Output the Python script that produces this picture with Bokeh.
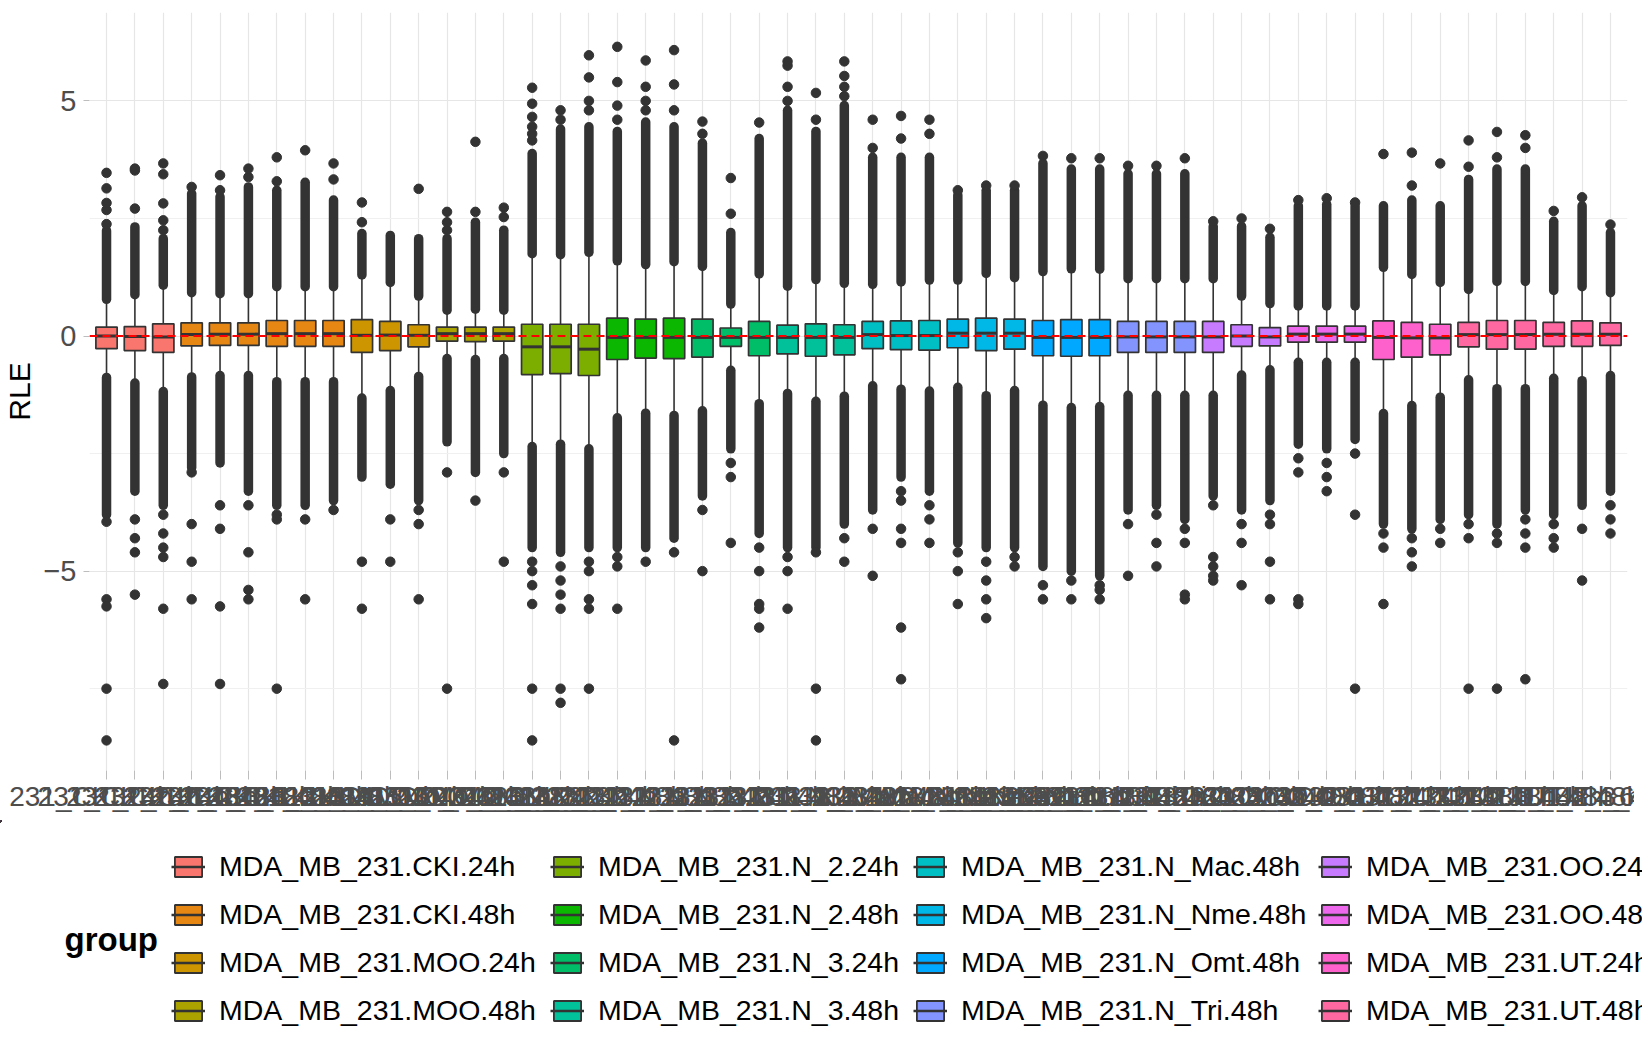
"""
RLE boxplots per sample, coloured by group (ggplot-like look rebuilt in bokeh)
"""
import math
from bokeh.plotting import figure
from bokeh.models import ColumnDataSource, Range1d, FixedTicker, Span, Legend, LegendItem, Label
from bokeh.embed import file_html
from bokeh.resources import INLINE

# groups and replicate counts
groups = ["MDA_MB_231.CKI.24h", "MDA_MB_231.CKI.48h", "MDA_MB_231.MOO.24h", "MDA_MB_231.MOO.48h",
          "MDA_MB_231.N_2.24h", "MDA_MB_231.N_2.48h", "MDA_MB_231.N_3.24h", "MDA_MB_231.N_3.48h",
          "MDA_MB_231.N_Mac.48h", "MDA_MB_231.N_Nme.48h", "MDA_MB_231.N_Omt.48h", "MDA_MB_231.N_Tri.48h",
          "MDA_MB_231.OO.24h", "MDA_MB_231.OO.48h", "MDA_MB_231.UT.24h", "MDA_MB_231.UT.48h"]
reps = [3, 6, 3, 3, 3, 3, 3, 3, 3, 3, 3, 3, 3, 3, 3, 6]

# box statistics, one value per sample (54 samples)
q1 = [-0.27, -0.31, -0.35, -0.21, -0.20, -0.20, -0.22, -0.22, -0.22, -0.35, -0.31, -0.23,
      -0.11, -0.12, -0.11, -0.82, -0.80, -0.84, -0.50, -0.47, -0.48, -0.45, -0.22, -0.42,
      -0.38, -0.43, -0.40, -0.27, -0.29, -0.30, -0.25, -0.31, -0.28, -0.42, -0.43, -0.42,
      -0.35, -0.35, -0.35, -0.35, -0.22, -0.21, -0.13, -0.13, -0.13, -0.50, -0.45, -0.40,
      -0.23, -0.28, -0.28, -0.22, -0.22, -0.20]
med = [0.00, -0.01, -0.02, 0.03, 0.04, 0.04, 0.05, 0.05, 0.05, 0.015, 0.02, 0.015,
       0.05, 0.05, 0.05, -0.23, -0.23, -0.28, -0.03, -0.03, -0.03, -0.03, -0.03, -0.03,
       -0.03, -0.03, -0.03, 0.03, 0.01, 0.01, 0.06, 0.06, 0.06, -0.03, -0.03, -0.03,
       -0.02, -0.02, -0.02, -0.02, 0.00, -0.02, 0.04, 0.04, 0.04, -0.03, -0.04, -0.04,
       0.03, 0.03, 0.03, 0.04, 0.04, 0.04]
q3 = [0.19, 0.20, 0.26, 0.28, 0.28, 0.28, 0.33, 0.33, 0.33, 0.35, 0.31, 0.24,
      0.19, 0.19, 0.19, 0.25, 0.25, 0.25, 0.38, 0.36, 0.38, 0.36, 0.17, 0.31,
      0.23, 0.26, 0.24, 0.31, 0.32, 0.33, 0.36, 0.38, 0.36, 0.33, 0.35, 0.35,
      0.31, 0.31, 0.31, 0.31, 0.24, 0.18, 0.21, 0.21, 0.21, 0.32, 0.29, 0.25,
      0.29, 0.33, 0.33, 0.29, 0.32, 0.28]
whisk_lo = [-0.88, -1.00, -1.18, -0.87, -0.84, -0.84, -0.97, -0.97, -0.97, -1.32, -1.16, -0.86,
            -0.48, -0.50, -0.48, -2.35, -2.30, -2.40, -1.74, -1.64, -1.69, -1.59, -0.73, -1.44,
            -1.22, -1.39, -1.28, -1.06, -1.13, -1.17, -1.09, -1.27, -1.16, -1.47, -1.52, -1.50,
            -1.26, -1.26, -1.26, -1.26, -0.83, -0.72, -0.56, -0.56, -0.56, -1.65, -1.48, -1.30,
            -0.93, -1.12, -1.12, -0.90, -0.95, -0.84]
whisk_hi = [0.78, 0.88, 1.08, 0.92, 0.90, 0.90, 1.05, 1.05, 1.05, 1.30, 1.14, 0.85,
            0.55, 0.57, 0.55, 1.75, 1.73, 1.78, 1.60, 1.52, 1.58, 1.48, 0.68, 1.32,
            1.06, 1.20, 1.12, 1.10, 1.15, 1.19, 1.19, 1.33, 1.24, 1.37, 1.43, 1.42,
            1.22, 1.22, 1.22, 1.22, 0.85, 0.69, 0.64, 0.64, 0.64, 1.46, 1.31, 1.14,
            0.99, 1.16, 1.16, 0.97, 1.05, 0.92]

# outliers: the packed run of points beyond each whisker, then the scattered ones
dense_lo = [-3.8, -3.3, -3.6, -2.8, -2.7, -3.3, -3.6, -3.6, -3.5, -3.0, -3.15, -3.5,
            -2.25, -2.9, -2.5, -4.5, -4.6, -4.5, -4.5, -4.5, -4.3, -3.4, -2.4, -4.2,
            -4.5, -4.5, -4.0, -3.7, -3.0, -3.3, -4.4, -4.5, -4.5, -4.9, -5.0, -5.1,
            -3.7, -3.6, -3.9, -3.4, -3.7, -3.5, -2.3, -2.4, -2.2, -4.0, -4.1, -3.9,
            -3.8, -4.0, -3.7, -3.8, -3.6, -3.3]
dense_hi = [2.24, 2.32, 2.07, 3.03, 2.96, 3.17, 3.10, 3.27, 2.89, 2.18, 2.14, 2.07,
            2.07, 2.42, 2.25, 3.88, 4.40, 4.45, 4.35, 4.55, 4.45, 4.10, 2.20, 4.20,
            4.80, 4.35, 4.90, 3.80, 3.80, 3.80, 3.00, 3.10, 3.10, 3.67, 3.55, 3.55,
            3.45, 3.45, 3.45, 2.33, 2.33, 2.10, 2.77, 2.80, 2.77, 2.77, 2.89, 2.77,
            3.33, 3.55, 3.55, 2.44, 2.77, 2.20]
out_lo = [[-3.95, -5.6, -5.75, -7.5, -8.6], [-3.9, -4.3, -4.6, -5.5], [-3.8, -4.2, -4.5, -4.7, -5.8, -7.4],
          [-2.9, -4.0, -4.8, -5.6], [-3.6, -4.1, -5.75, -7.4], [-3.6, -4.6, -5.4, -5.6],
          [-3.8, -3.9, -7.5], [-3.9, -5.6], [-3.7], [-4.8, -5.8], [-3.9, -4.8], [-3.7, -4.0, -5.6],
          [-2.9, -7.5], [-3.5], [-2.9, -4.8],
          [-4.8, -5.0, -5.3, -5.7, -7.5, -8.6], [-4.9, -5.2, -5.5, -5.8, -7.5, -7.8], [-4.8, -5.0, -5.6, -5.8, -7.5],
          [-4.7, -4.9, -5.8], [-4.8], [-4.6, -8.6],
          [-3.7, -5.0], [-2.7, -3.0, -4.4], [-4.5, -5.0, -5.7, -5.8, -6.2],
          [-4.7, -5.0, -5.8], [-4.6, -7.5, -8.6], [-4.3, -4.8],
          [-4.1, -5.1], [-3.3, -3.5, -4.1, -4.4, -6.2, -7.3], [-3.6, -3.9, -4.4],
          [-4.6, -5.0, -5.7], [-4.8, -5.2, -5.6, -6.0], [-4.7, -4.9],
          [-5.3, -5.6], [-5.2, -5.6], [-5.3, -5.4, -5.6],
          [-4.0, -5.1], [-3.8, -4.4, -4.9], [-4.1, -4.4, -5.5, -5.6],
          [-3.6, -4.7, -4.9, -5.1, -5.2], [-4.0, -4.4, -5.3], [-3.8, -4.0, -4.8, -5.6],
          [-2.6, -2.9, -5.6, -5.7], [-2.7, -3.0, -3.3], [-2.5, -3.8, -7.5],
          [-4.2, -4.5, -5.7], [-4.3, -4.6, -4.9], [-4.1, -4.4],
          [-4.0, -4.3, -7.5], [-4.2, -4.4, -7.5], [-3.9, -4.2, -4.5, -7.3],
          [-4.0, -4.3, -4.5], [-4.1, -5.2], [-3.6, -3.9, -4.2]]
out_hi = [[2.38, 2.68, 2.83, 3.14, 3.47], [2.71, 3.52, 3.56], [2.25, 2.46, 2.82, 3.44, 3.67],
          [3.17], [3.10, 3.42], [3.38, 3.56], [3.29, 3.80], [3.95], [3.33, 3.67],
          [2.42, 2.84], [], [3.13], [2.25, 2.42, 2.64], [2.64, 4.13], [2.53, 2.73],
          [4.16, 4.30, 4.45, 4.66, 4.94, 5.28], [4.60, 4.80], [4.80, 5.00, 5.50, 5.97],
          [4.60, 4.90, 5.40, 6.15], [4.80, 5.00, 5.30, 5.86], [4.80, 5.35, 6.08],
          [4.30, 4.56], [2.60, 3.36], [4.54],
          [5.00, 5.30, 5.75, 5.84], [4.60, 5.17], [5.10, 5.30, 5.53, 5.84],
          [4.00, 4.60], [4.20, 4.68], [4.30, 4.60],
          [3.10], [3.20], [3.20], [3.83], [3.78], [3.78],
          [3.62], [3.62], [3.78], [2.44], [2.50], [2.28],
          [2.89], [2.93], [2.84], [3.87], [3.20, 3.90], [3.67],
          [3.60, 4.16], [3.80, 4.34], [4.00, 4.27], [2.66], [2.95], [2.37]]

# y ticks
y_ticks = [-5, 0, 5]
y_minor = [-7.5, -2.5, 2.5]


def hcl_hex(h, c=100.0, l=65.0):
    # polarLUV -> sRGB, same as R's hcl() used by ggplot's hue palette
    xn, yn, zn = 95.047, 100.0, 108.883
    un = 4 * xn / (xn + 15 * yn + 3 * zn)
    vn = 9 * yn / (xn + 15 * yn + 3 * zn)
    yy = yn * ((l + 16) / 116) ** 3
    u = c * math.cos(math.radians(h)) / (13 * l) + un
    v = c * math.sin(math.radians(h)) / (13 * l) + vn
    xx = 9 * yy * u / (4 * v)
    zz = -xx / 3 - 5 * yy + 3 * yy / v
    lin = [(3.240479 * xx - 1.537150 * yy - 0.498535 * zz) / yn,
           (-0.969256 * xx + 1.875992 * yy + 0.041556 * zz) / yn,
           (0.055648 * xx - 0.204043 * yy + 1.057311 * zz) / yn]
    out = []
    for t in lin:
        t = 1.055 * t ** (1 / 2.4) - 0.055 if t > 0.00304 else 12.92 * t
        out.append(min(max(int(round(255 * t)), 0), 255))
    return "#%02x%02x%02x" % tuple(out)


colors = [hcl_hex(15 + 360 * k / len(groups)) for k in range(len(groups))]

# sample index -> group index, sample names for the x axis
group_of = [g for g, n in enumerate(reps) for _ in range(n)]
sample_names = ["231_" + groups[g].split(".", 1)[1] + "_" + str(r + 1)
                for g, n in enumerate(reps) for r in range(n)]
xs = list(range(1, len(sample_names) + 1))

FONT = "Liberation Sans"
DARK = "#333333"
W = 1634

p = figure(width=W, height=820, x_range=Range1d(0.4, len(xs) + 0.6), y_range=Range1d(-9.24, 6.88),
           output_backend="svg", toolbar_location=None,
           min_border_left=77, min_border_right=7, min_border_top=12, min_border_bottom=50)
p.outline_line_color = None
p.background_fill_color = "white"

# grid like theme_minimal
p.xgrid.grid_line_color = "#E6E6E6"
p.xgrid.grid_line_width = 1.2
p.ygrid.grid_line_color = "#E6E6E6"
p.ygrid.grid_line_width = 1.2
p.ygrid.minor_grid_line_color = "#F0F0F0"
p.ygrid.minor_grid_line_width = 1

p.xaxis.ticker = FixedTicker(ticks=xs)
p.xaxis.major_label_overrides = {x: n for x, n in zip(xs, sample_names)}
p.yaxis.ticker = FixedTicker(ticks=y_ticks, minor_ticks=y_minor)
p.yaxis.axis_label = "RLE"

for ax in (p.xaxis, p.yaxis):
    ax.axis_line_color = None
    ax.major_tick_line_color = "#BDBDBD"
    ax.major_tick_in = 0
    ax.minor_tick_line_color = None
    ax.major_label_text_font = FONT
    ax.major_label_text_color = "#4D4D4D"

p.xaxis.major_tick_out = 9
p.xaxis.major_label_standoff = 1
p.xaxis.major_label_text_font_size = "28px"
p.yaxis.major_tick_out = 6
p.yaxis.major_label_standoff = 7
p.yaxis.major_label_text_font_size = "29px"
p.yaxis.axis_label_text_font = FONT
p.yaxis.axis_label_text_font_size = "30px"
p.yaxis.axis_label_text_font_style = "normal"
p.yaxis.axis_label_text_color = "black"
p.yaxis.axis_label_standoff = 4

# whiskers and outliers
stats = ColumnDataSource(dict(x=xs, q1=q1, q3=q3, wl=whisk_lo, wh=whisk_hi, dl=dense_lo, dh=dense_hi))
p.segment(x0="x", y0="q3", x1="x", y1="wh", source=stats, line_color=DARK, line_width=1.6)
p.segment(x0="x", y0="q1", x1="x", y1="wl", source=stats, line_color=DARK, line_width=1.6)
p.segment(x0="x", y0="wh", x1="x", y1="dh", source=stats, line_color=DARK, line_width=9.5, line_cap="round")
p.segment(x0="x", y0="wl", x1="x", y1="dl", source=stats, line_color=DARK, line_width=9.5, line_cap="round")

pt_x = [x for x, pts in zip(xs, out_lo) for _ in pts] + [x for x, pts in zip(xs, out_hi) for _ in pts]
pt_y = [v for pts in out_lo for v in pts] + [v for pts in out_hi for v in pts]
p.scatter(pt_x, pt_y, size=9.5, color=DARK)

# boxes, one renderer per group
for g, name in enumerate(groups):
    idx = [i for i in range(len(xs)) if group_of[i] == g]
    src = ColumnDataSource(dict(
        x=[xs[i] for i in idx], q1=[q1[i] for i in idx], q3=[q3[i] for i in idx],
        med=[med[i] for i in idx],
        xl=[xs[i] - 0.375 for i in idx], xr=[xs[i] + 0.375 for i in idx]))
    p.vbar(x="x", width=0.75, bottom="q1", top="q3", source=src,
           fill_color=colors[g], line_color=DARK, line_width=1.7)
    p.segment(x0="xl", y0="med", x1="xr", y1="med", source=src, line_color=DARK, line_width=3)

# red dashed reference line at 0
p.add_layout(Span(location=0, dimension="width", line_color="red", line_dash="8 5", line_width=2.2))

# legend strip under the plot (pixel coordinates, y down)
LH = 215
LW = 1642
lg = figure(width=LW, height=LH, x_range=Range1d(0, LW), y_range=Range1d(LH, 0),
            output_backend="svg", toolbar_location=None, x_axis_location=None, y_axis_location=None,
            min_border_left=0, min_border_right=0, min_border_top=0, min_border_bottom=0)
lg.outline_line_color = None
lg.grid.visible = False

# key glyphs: each sits off-canvas, only its legend swatch shows
items = []
for g, name in enumerate(groups):
    key_box = lg.vbar(x=[-1000], width=1, bottom=[0], top=[1],
                      fill_color=colors[g], line_color=DARK, line_width=1.8)
    key_med = lg.segment(x0=[-1000], y0=[0], x1=[-999], y1=[0], line_color=DARK, line_width=2.6)
    items.append(LegendItem(label=name, renderers=[key_box, key_med]))

col_x = [171, 550, 913, 1318]
for k, cx in enumerate(col_x):
    leg = Legend(items=items[4 * k:4 * k + 4], location=(cx, 8), orientation="vertical",
                 glyph_width=34, glyph_height=25, label_height=20, label_standoff=14, spacing=15,
                 padding=0, margin=0, border_line_color=None, background_fill_alpha=0,
                 label_text_font=FONT, label_text_font_size="28.5px", label_text_color="black")
    lg.add_layout(leg, "center")

lg.add_layout(Label(x=64, y=119, text="group", text_font=FONT, text_font_size="33px",
                    text_font_style="bold", text_color="black", text_baseline="middle", text_align="left"))

open("out.html", "w").write(file_html([p, lg], INLINE))
